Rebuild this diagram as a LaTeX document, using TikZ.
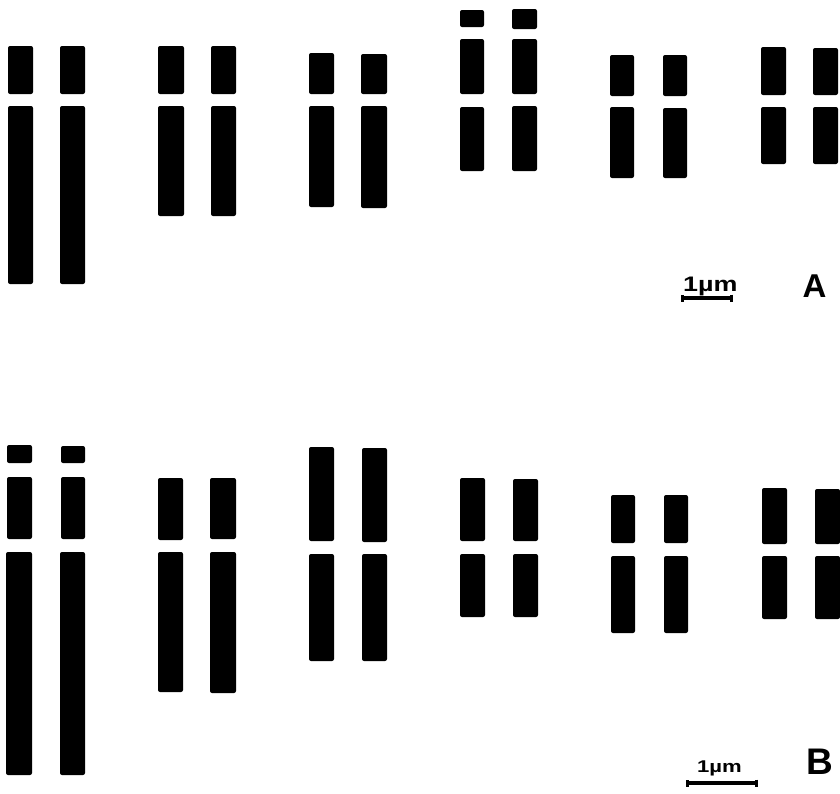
\documentclass[tikz,border=0pt]{standalone}
\usepackage{fontspec}
\setsansfont{Liberation Sans}
\usepackage{tikz}
\usetikzlibrary{arrows.meta}
\tikzset{
	armstyle/.style={fill=black,rounded corners=2pt},
	barstyle/.style={line width=3.4pt,{Bar[width=7pt,line width=3pt]}-{Bar[width=7pt,line width=3pt]}},
	scalestyle/.style={anchor=base west,inner sep=0pt,font=\sffamily\bfseries},
	panelstyle/.style={inner sep=0pt,font=\sffamily\bfseries}
}

\begin{document}
\begin{tikzpicture}[x=1pt,y=-1pt]
		\useasboundingbox (0,0) rectangle (840,793);
		% panel A
		\fill[armstyle] (8,46) rectangle (33,94);
		\fill[armstyle] (8,106) rectangle (33,284);
		\fill[armstyle] (60,46) rectangle (85,94);
		\fill[armstyle] (60,106) rectangle (85,284);
		\fill[armstyle] (158,46) rectangle (184,94);
		\fill[armstyle] (158,106) rectangle (184,216);
		\fill[armstyle] (211,46) rectangle (236,94);
		\fill[armstyle] (211,106) rectangle (236,216);
		\fill[armstyle] (309,53) rectangle (334,94);
		\fill[armstyle] (309,106) rectangle (334,207);
		\fill[armstyle] (361,54) rectangle (387,94);
		\fill[armstyle] (361,106) rectangle (387,208);
		\fill[armstyle] (460,10) rectangle (484,27);
		\fill[armstyle] (460,39) rectangle (484,94);
		\fill[armstyle] (460,107) rectangle (484,171);
		\fill[armstyle] (512,9) rectangle (537,29);
		\fill[armstyle] (512,39) rectangle (537,94);
		\fill[armstyle] (512,106) rectangle (537,171);
		\fill[armstyle] (610,55) rectangle (634,96);
		\fill[armstyle] (610,107) rectangle (634,178);
		\fill[armstyle] (663,55) rectangle (687,96);
		\fill[armstyle] (663,108) rectangle (687,178);
		\fill[armstyle] (761,47) rectangle (786,95);
		\fill[armstyle] (761,107) rectangle (786,164);
		\fill[armstyle] (813,48) rectangle (838,95);
		\fill[armstyle] (813,107) rectangle (838,164);
		\coordinate (sa1) at (681,298);
		\coordinate (sa2) at (733,298);
		\draw[barstyle] (sa1)--(sa2);
		\node[scalestyle,font=\sffamily\bfseries\fontsize{21}{21}\selectfont] (ua) at (683,291) {\scalebox{1.28}[1]{1µm}};
		\node[panelstyle,font=\sffamily\bfseries\fontsize{33}{33}\selectfont] (pa) at (814.5,286) {A};
		% panel B
		\fill[armstyle] (7,445) rectangle (32,463);
		\fill[armstyle] (7,477) rectangle (32,539);
		\fill[armstyle] (6,552) rectangle (32,775);
		\fill[armstyle] (61,446) rectangle (85,463);
		\fill[armstyle] (61,477) rectangle (85,539);
		\fill[armstyle] (60,552) rectangle (85,775);
		\fill[armstyle] (158,478) rectangle (183,540);
		\fill[armstyle] (158,552) rectangle (183,692);
		\fill[armstyle] (210,478) rectangle (236,539);
		\fill[armstyle] (210,552) rectangle (236,693);
		\fill[armstyle] (309,447) rectangle (334,541);
		\fill[armstyle] (309,554) rectangle (334,661);
		\fill[armstyle] (362,448) rectangle (387,542);
		\fill[armstyle] (362,554) rectangle (387,661);
		\fill[armstyle] (460,478) rectangle (485,541);
		\fill[armstyle] (460,554) rectangle (485,617);
		\fill[armstyle] (513,479) rectangle (538,541);
		\fill[armstyle] (513,554) rectangle (538,617);
		\fill[armstyle] (611,495) rectangle (635,543);
		\fill[armstyle] (611,556) rectangle (635,633);
		\fill[armstyle] (664,495) rectangle (688,543);
		\fill[armstyle] (664,556) rectangle (688,633);
		\fill[armstyle] (762,488) rectangle (787,544);
		\fill[armstyle] (762,556) rectangle (787,619);
		\fill[armstyle] (815,489) rectangle (840,544);
		\fill[armstyle] (815,556) rectangle (840,619);
		\coordinate (sb1) at (686,783);
		\coordinate (sb2) at (758,783);
		\draw[barstyle] (sb1)--(sb2);
		\node[scalestyle,font=\sffamily\bfseries\fontsize{17}{17}\selectfont] (ub) at (697,772) {\scalebox{1.3}[1]{1µm}};
		\node[panelstyle,font=\sffamily\bfseries\fontsize{37}{37}\selectfont] (pb) at (819.5,761.5) {B};
\end{tikzpicture}
\end{document}
